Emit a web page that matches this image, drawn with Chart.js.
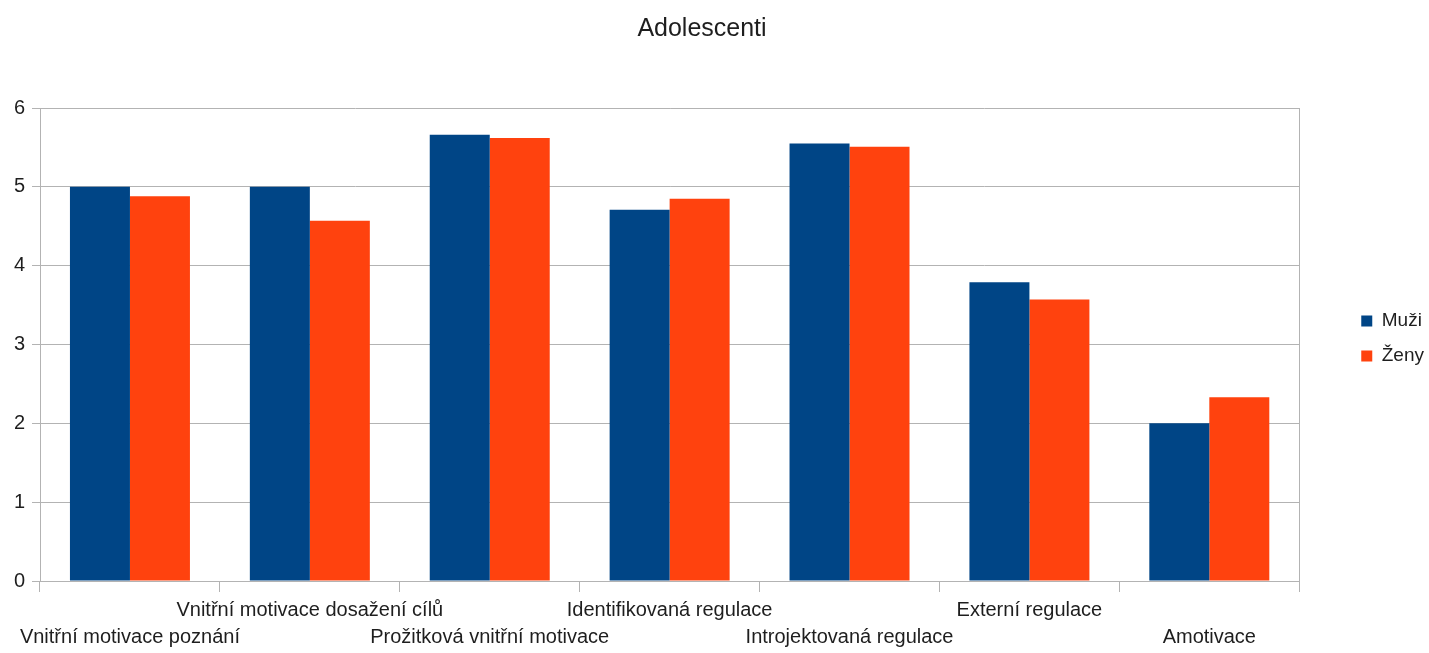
<!DOCTYPE html>
<html>
<head>
<meta charset="utf-8">
<script src="https://cdn.jsdelivr.net/npm/chart.js@4/dist/chart.umd.min.js"></script>
<style>
  html, body { margin: 0; padding: 0; background: #ffffff; }
  #wrap { width: 1429px; height: 653px; }
</style>
</head>
<body>
<div id="wrap"><canvas id="chart" width="1429" height="653"></canvas></div>
<script>
// Categories of motivation (SMS scale) and mean scores by gender
const categories = [
  'Vnitřní motivace poznání',
  'Vnitřní motivace dosažení cílů',
  'Prožitková vnitřní motivace',
  'Identifikovaná regulace',
  'Introjektovaná regulace',
  'Externí regulace',
  'Amotivace'
];
const muzi = [5.00, 5.00, 5.66, 4.71, 5.55, 3.79, 2.00];
const zeny = [4.88, 4.57, 5.62, 4.85, 5.51, 3.57, 2.33];
const yTicks = [0, 1, 2, 3, 4, 5, 6];

const GRID = '#b3b3b3';
const TEXT = '#1e1e1e';
Chart.defaults.font.family = '"Liberation Sans", Arial, sans-serif';
Chart.defaults.color = TEXT;

// lift the legend block a little so it sits slightly above the plot's middle
const legendLift = {
  id: 'legendLift',
  afterLayout(chart) {
    const lg = chart.legend;
    if (lg) { lg.top -= 6; lg.bottom -= 6; }
  }
};

new Chart(document.getElementById('chart'), {
  type: 'bar',
  data: {
    labels: categories,
    datasets: [
      { label: 'Muži', data: muzi, backgroundColor: '#004586', borderWidth: 0 },
      { label: 'Ženy', data: zeny, backgroundColor: '#ff420e', borderWidth: 0 }
    ]
  },
  plugins: [legendLift],
  options: {
    responsive: false,
    animation: false,
    categoryPercentage: 0.667,
    barPercentage: 1.0,
    layout: { padding: { left: -30, right: -5, top: 0, bottom: -3 } },
    plugins: {
      title: {
        display: true,
        text: 'Adolescenti',
        color: TEXT,
        font: { size: 25, weight: 'normal' },
        padding: { top: 14, bottom: 64 }
      },
      legend: {
        position: 'right',
        fullSize: false,
        labels: {
          boxWidth: 11,
          boxHeight: 11,
          padding: 16,
          color: TEXT,
          font: { size: 19 }
        }
      },
      tooltip: { enabled: false }
    },
    scales: {
      x: {
        grid: {
          offset: true,
          drawOnChartArea: false,
          drawTicks: true,
          tickLength: 11,
          tickColor: GRID,
          color: GRID
        },
        border: { display: true, color: GRID },
        ticks: {
          autoSkip: false,
          maxRotation: 0,
          minRotation: 0,
          padding: 5,
          color: TEXT,
          font: { size: 20, lineHeight: 1.35 },
          callback: function (value, index) {
            const label = this.getLabelForValue(value);
            // alternate labels between two rows so long names do not collide
            return index % 2 === 0 ? ['', label] : [label, ''];
          }
        }
      },
      y: {
        min: 0,
        max: 6,
        afterBuildTicks: (axis) => { axis.ticks = yTicks.map(v => ({ value: v })); },
        afterFit: (axis) => { axis.width = 70; },
        grid: { color: GRID, tickLength: 8, tickColor: GRID },
        border: { display: true, color: GRID },
        ticks: { padding: 7, color: TEXT, font: { size: 20 } }
      },
      yRight: {
        position: 'right',
        min: 0,
        max: 6,
        grid: { drawOnChartArea: false, drawTicks: false },
        border: { display: true, color: GRID },
        ticks: { display: false },
        afterFit: (axis) => { axis.width = 46; }
      }
    }
  }
});
</script>
</body>
</html>
